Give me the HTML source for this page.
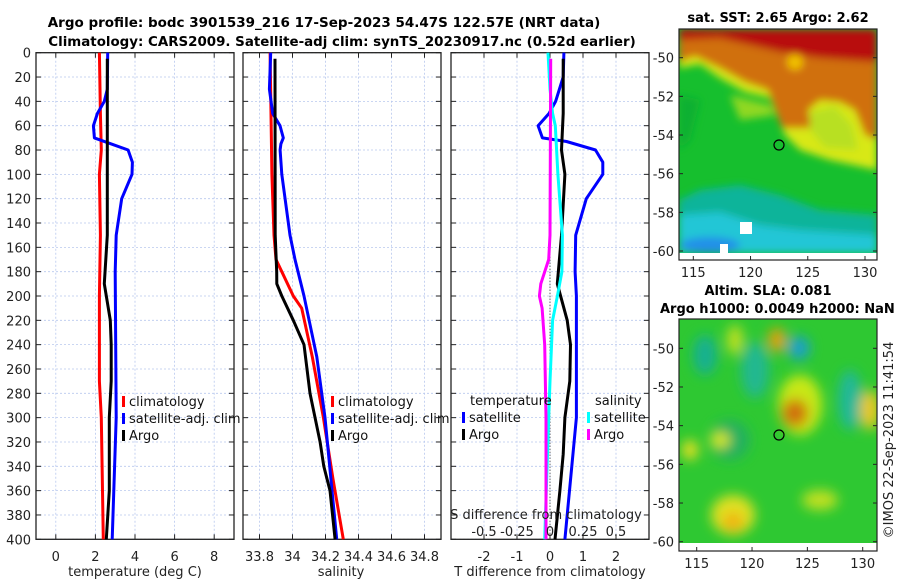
<!DOCTYPE html>
<html><head><meta charset="utf-8"><style>
html,body{margin:0;padding:0;background:#fff;}
svg{display:block;font-family:"DejaVu Sans","Liberation Sans",sans-serif;}
</style></head><body>
<svg id="fig" width="900" height="580" viewBox="0 0 900 580">
<defs>
<filter id="bl" x="-20%" y="-20%" width="140%" height="140%"><feGaussianBlur stdDeviation="4"/></filter>
<filter id="bl2" x="-20%" y="-20%" width="140%" height="140%"><feGaussianBlur stdDeviation="6"/></filter>
<clipPath id="c1"><rect x="679" y="29" width="198" height="224"/></clipPath>
<clipPath id="c2"><rect x="679" y="319" width="198" height="224"/></clipPath>
</defs>
<text x="324" y="27" text-anchor="middle" font-size="13.5" font-weight="bold">Argo profile: bodc 3901539_216 17-Sep-2023 54.47S 122.57E (NRT data)</text>
<text x="342" y="46" text-anchor="middle" font-size="13.4" font-weight="bold">Climatology: CARS2009. Satellite-adj clim: synTS_20230917.nc (0.52d earlier)</text>
<g id="panels"></g>

<!-- SST map -->
<text x="778" y="22" text-anchor="middle" font-size="13" font-weight="bold">sat. SST: 2.65 Argo: 2.62</text>
<g clip-path="url(#c1)">
<rect x="679" y="29" width="198" height="224" fill="#16bf2e"/>
<g filter="url(#bl)">
<polygon points="679,200 700,190 740,185 780,195 820,210 877,215 877,253 679,253" fill="#10b49a"/>
<polygon points="679,215 720,212 760,225 800,230 877,235 877,253 679,253" fill="#22c6d6"/>
<ellipse cx="710" cy="245" rx="30" ry="8" fill="#2090e8"/>
<polygon points="679,68 700,64 720,78 745,92 770,98 785,135 800,150 830,160 877,170 877,29 679,29" fill="#d8e818"/>
<polygon points="679,62 695,56 720,68 745,82 768,90 782,128 812,128 808,110 820,100 840,102 855,110 865,135 877,140 877,29 679,29" fill="#d07010"/>
<polygon points="679,40 720,38 750,45 780,52 820,58 877,62 877,29 679,29" fill="#b80808"/>
<polygon points="810,112 835,106 852,125 858,150 825,148 810,130" fill="#b8e020"/>
<polygon points="730,95 770,105 775,115 740,120" fill="#90d820"/>
<polygon points="679,95 700,100 690,140 679,150" fill="#10b030"/>
<circle cx="795" cy="62" r="8" fill="#f0c000"/>
</g>
<rect x="740" y="222" width="12" height="12" fill="#fff"/>
<rect x="720" y="244" width="8" height="9" fill="#fff"/>
</g>
<rect x="679" y="29" width="198" height="231" fill="none" stroke="#222" stroke-width="1.2"/>
<circle cx="779" cy="145" r="5" fill="none" stroke="#000" stroke-width="1.2"/>
<g id="map1ax"></g>

<!-- SLA map -->
<text x="768" y="295" text-anchor="middle" font-size="13" font-weight="bold">Altim. SLA: 0.081</text>
<text x="660" y="313" font-size="13" font-weight="bold">Argo h1000: 0.0049 h2000: NaN</text>
<g clip-path="url(#c2)">
<rect x="679" y="319" width="198" height="224" fill="#2ec832"/>
<g filter="url(#bl2)">
<ellipse cx="705" cy="355" rx="12" ry="20" fill="#18b090"/>
<ellipse cx="755" cy="370" rx="14" ry="28" fill="#20b890"/>
<ellipse cx="850" cy="400" rx="12" ry="30" fill="#20b898"/>
<ellipse cx="730" cy="440" rx="20" ry="20" fill="#22b060"/>
<ellipse cx="800" cy="405" rx="22" ry="30" fill="#c8e818"/>
<ellipse cx="795" cy="413" rx="13" ry="14" fill="#d07010"/>
<ellipse cx="777" cy="340" rx="9" ry="12" fill="#e0a010"/>
<ellipse cx="799" cy="348" rx="11" ry="12" fill="#1aa0c8"/>
<ellipse cx="733" cy="515" rx="22" ry="20" fill="#e0e020"/>
<ellipse cx="733" cy="522" rx="10" ry="9" fill="#f0b010"/>
<ellipse cx="870" cy="410" rx="10" ry="20" fill="#e8c820"/>
<ellipse cx="720" cy="440" rx="10" ry="8" fill="#d8e820"/>
<ellipse cx="690" cy="450" rx="8" ry="10" fill="#e8e020"/>
<ellipse cx="820" cy="500" rx="18" ry="10" fill="#c0e020"/>
<ellipse cx="735" cy="340" rx="8" ry="15" fill="#c0e020"/>
</g>
</g>
<rect x="679" y="319" width="198" height="232" fill="none" stroke="#222" stroke-width="1.2"/>
<circle cx="779" cy="435" r="5" fill="none" stroke="#000" stroke-width="1.2"/>
<g id="map2ax"></g>
<text transform="translate(893,440) rotate(-90)" text-anchor="middle" font-size="13" fill="#222">©IMOS 22-Sep-2023 11:41:54</text>
</svg>
<script>
// ---- data (depth in m) ----
const tClimDepth=[0,50,80,100,150,200,270,300,400];
const tClimVal=[2.2,2.25,2.3,2.2,2.25,2.2,2.2,2.3,2.4];
const tSatDepth=[0,30,40,50,60,70,75,80,90,100,120,150,180,300,400];
const tSatVal=[2.62,2.6,2.45,2.1,1.9,1.95,2.8,3.65,3.87,3.85,3.33,3.05,3.0,3.05,2.85];
const tArgoDepth=[5,150,190,220,240,270,300,360,400];
const tArgoVal=[2.6,2.6,2.45,2.75,2.8,2.8,2.7,2.7,2.55];
const sClimDepth=[0,50,100,150,170,180,200,210,250,300,350,400];
const sClimVal=[33.864,33.87,33.875,33.888,33.9,33.935,34.005,34.056,34.12,34.187,34.245,34.308];
const sSatDepth=[0,30,50,60,70,75,80,100,150,170,200,250,300,400];
const sSatVal=[33.868,33.86,33.88,33.924,33.944,33.93,33.925,33.935,33.985,34.015,34.07,34.147,34.197,34.268];
const sArgoDepth=[5,150,180,190,200,220,240,280,320,340,360,400];
const sArgoVal=[33.894,33.895,33.904,33.905,33.935,34.005,34.07,34.106,34.167,34.19,34.227,34.258];
const dtSatDepth=[0,20,40,50,60,70,73,80,90,100,120,150,180,200,300,400];
const dtSatVal=[0.42,0.4,0.17,-0.03,-0.36,-0.23,0.5,1.38,1.6,1.6,1.1,0.78,0.76,0.8,0.8,0.45];
const dtArgoDepth=[5,50,80,100,150,190,220,240,270,300,330,360,400];
const dtArgoVal=[0.4,0.4,0.35,0.45,0.35,0.22,0.52,0.62,0.6,0.45,0.4,0.3,0.15];
const dsSatDepth=[0,30,50,60,80,100,150,180,200,220,270,300,400];
const dsSatVal=[-0.015,0.0,0.02,0.04,0.05,0.06,0.094,0.09,0.056,0.02,0.0,-0.01,-0.04];
const dsArgoDepth=[5,150,170,190,200,210,240,300,400];
const dsArgoVal=[0.005,0.0,-0.01,-0.07,-0.08,-0.06,-0.04,-0.03,-0.03];
const depthTicks=[0,20,40,60,80,100,120,140,160,180,200,220,240,260,280,300,320,340,360,380,400];
const tTicks=[0,2,4,6,8];
const sTicks=[33.8,34,34.2,34.4,34.6,34.8];
const sTickLabels=["33.8","34","34.2","34.4","34.6","34.8"];
const dtTicks=[-2,-1,0,1,2];
const dsTicks=[-0.5,-0.25,0,0.25,0.5];
const dsTickLabels=["-0.5","-0.25","0","0.25","0.5"];
const lonTicks=[115,120,125,130];
const latTicks=[-50,-52,-54,-56,-58,-60];

const NS="http://www.w3.org/2000/svg";
const root=document.getElementById('panels');
function mk(tag,attrs,parent){const e=document.createElementNS(NS,tag);for(const k in attrs)e.setAttribute(k,attrs[k]);(parent||root).appendChild(e);return e;}
const Y0=52.7,Y1=539.3;
const yD=d=>Y0+(d/400)*(Y1-Y0);
function lin(d0,d1,r0,r1){return v=>r0+(v-d0)/(d1-d0)*(r1-r0);}

function panel(name,x0,x1,xs,ticks,labels,showY){
  const g=mk('g',{});
  
  
  ticks.forEach(t=>{const l=mk('line',{x1:xs(t),x2:xs(t),y1:Y0,y2:Y1,stroke:'#b8c8ee','stroke-width':0.8,'stroke-dasharray':'2,2'},g);
    });
  depthTicks.forEach(d=>{const l=mk('line',{x1:x0,x2:x1,y1:yD(d),y2:yD(d),stroke:'#b8c8ee','stroke-width':0.8,'stroke-dasharray':'2,2'},g);
    
    mk('line',{x1:x0,x2:x0+5,y1:yD(d),y2:yD(d),stroke:'#222'},g);
    mk('line',{x1:x1-5,x2:x1,y1:yD(d),y2:yD(d),stroke:'#222'},g);
    if(showY){const t=mk('text',{x:x0-5,y:yD(d)+5,'text-anchor':'end','font-size':13,fill:'#222'},g);t.textContent=d;
      }
  });
  ticks.forEach((t,i)=>{mk('line',{x1:xs(t),x2:xs(t),y1:Y1,y2:Y1-5,stroke:'#222'},g);
    mk('line',{x1:xs(t),x2:xs(t),y1:Y0,y2:Y0+5,stroke:'#222'},g);
    const tx=mk('text',{x:xs(t),y:561,'text-anchor':'middle','font-size':13,fill:'#222'},g);tx.textContent=labels[i];
    });
  const r=mk('rect',{x:x0,y:Y0,width:x1-x0,height:Y1-Y0,fill:'none',stroke:'#222','stroke-width':1.3},g);
  
  return g;
}
function series(g,name,depths,vals,xs,color){
  const p=mk('polyline',{points:depths.map((d,i)=>xs(vals[i]).toFixed(1)+','+yD(d).toFixed(1)).join(' '),fill:'none',stroke:color,'stroke-width':3,'stroke-linejoin':'round'},g);
  
}
function legend(g,x,y,items){
  items.forEach((it,i)=>{mk('rect',{x:x,y:y+i*17-10,width:3,height:11,fill:it[1]},g);
    const t=mk('text',{x:x+7,y:y+i*17,'font-size':13,fill:'#111'},g);t.textContent=it[0];
    });
}
function label(txt,x,y,name){const t=mk('text',{x:x,y:y,'text-anchor':'middle','font-size':13,fill:'#222'});t.textContent=txt;
  }

// panel 1
const xT=lin(-1,9,36,234);
const g1=panel('temperature-panel',36,234,xT,tTicks,tTicks.map(String),true);
series(g1,'temp-climatology-line',tClimDepth,tClimVal,xT,'#f00');
series(g1,'temp-satellite-line',tSatDepth,tSatVal,xT,'#00f');
series(g1,'temp-argo-line',tArgoDepth,tArgoVal,xT,'#000');
legend(g1,122,406,[['climatology','#f00'],['satellite-adj. clim','#00f'],['Argo','#000']]);
label('temperature (deg C)',135,576,'temperature-axis-title');
// panel 2
const xS=lin(33.7,34.9,243,441);
const g2=panel('salinity-panel',243,441,xS,sTicks,sTickLabels,false);
series(g2,'sal-climatology-line',sClimDepth,sClimVal,xS,'#f00');
series(g2,'sal-satellite-line',sSatDepth,sSatVal,xS,'#00f');
series(g2,'sal-argo-line',sArgoDepth,sArgoVal,xS,'#000');
legend(g2,331,406,[['climatology','#f00'],['satellite-adj. clim','#00f'],['Argo','#000']]);
label('salinity',341,576,'salinity-axis-title');
// panel 3
const xDT=lin(-3,3,451,649), xDS=lin(-0.75,0.75,451,649);
const g3=panel('difference-panel',451,649,xDT,dtTicks,dtTicks.map(String),false);
mk('line',{x1:xDT(0),x2:xDT(0),y1:Y0,y2:Y1,stroke:'#333','stroke-width':1,'stroke-dasharray':'1,2'},g3);
series(g3,'dt-satellite-line',dtSatDepth,dtSatVal,xDT,'#00f');
series(g3,'dt-argo-line',dtArgoDepth,dtArgoVal,xDT,'#000');
series(g3,'ds-satellite-line',dsSatDepth,dsSatVal,xDS,'#0ff');
series(g3,'ds-argo-line',dsArgoDepth,dsArgoVal,xDS,'#f0f');
{const t=mk('text',{x:470,y:405,'font-size':13,fill:'#111'},g3);t.textContent='temperature';}
{const t=mk('text',{x:595,y:405,'font-size':13,fill:'#111'},g3);t.textContent='salinity';}
legend(g3,462,422,[['satellite','#00f'],['Argo','#000']]);
legend(g3,587,422,[['satellite','#0ff'],['Argo','#f0f']]);
label('S difference from climatology',546,519,'s-diff-axis-title');
dsTicks.forEach((t,i)=>label(dsTickLabels[i],xDS(t),536,'s-diff-tick-label'));
label('T difference from climatology',550,576,'t-diff-axis-title');

// map axes
function mapAxes(id,lon0,lon1,xl0,xl1,lat0,lat1,yl0,yl1,ybot,labY){
  const g=document.getElementById(id);
  const xl=lin(lon0,lon1,xl0,xl1), yl=lin(lat0,lat1,yl0,yl1);
  lonTicks.forEach(v=>{mk('line',{x1:xl(v),x2:xl(v),y1:ybot,y2:ybot-4,stroke:'#222'},g);
    const t=mk('text',{x:xl(v),y:labY,'text-anchor':'middle','font-size':13,fill:'#222'},g);t.textContent=v;
    });
  latTicks.forEach(v=>{mk('line',{x1:877,x2:873,y1:yl(v),y2:yl(v),stroke:'#222'},g);
    mk('line',{x1:679,x2:683,y1:yl(v),y2:yl(v),stroke:'#222'},g);
    const t=mk('text',{x:674,y:yl(v)+5,'text-anchor':'end','font-size':13,fill:'#222'},g);t.textContent=v;
    });
}
mapAxes('map1ax',115,130,693.3,865,-50,-60,57.7,251,260,277);
mapAxes('map2ax',115,130,696.7,862.7,-50,-60,348.3,541.7,551,568);
</script>
</body></html>
